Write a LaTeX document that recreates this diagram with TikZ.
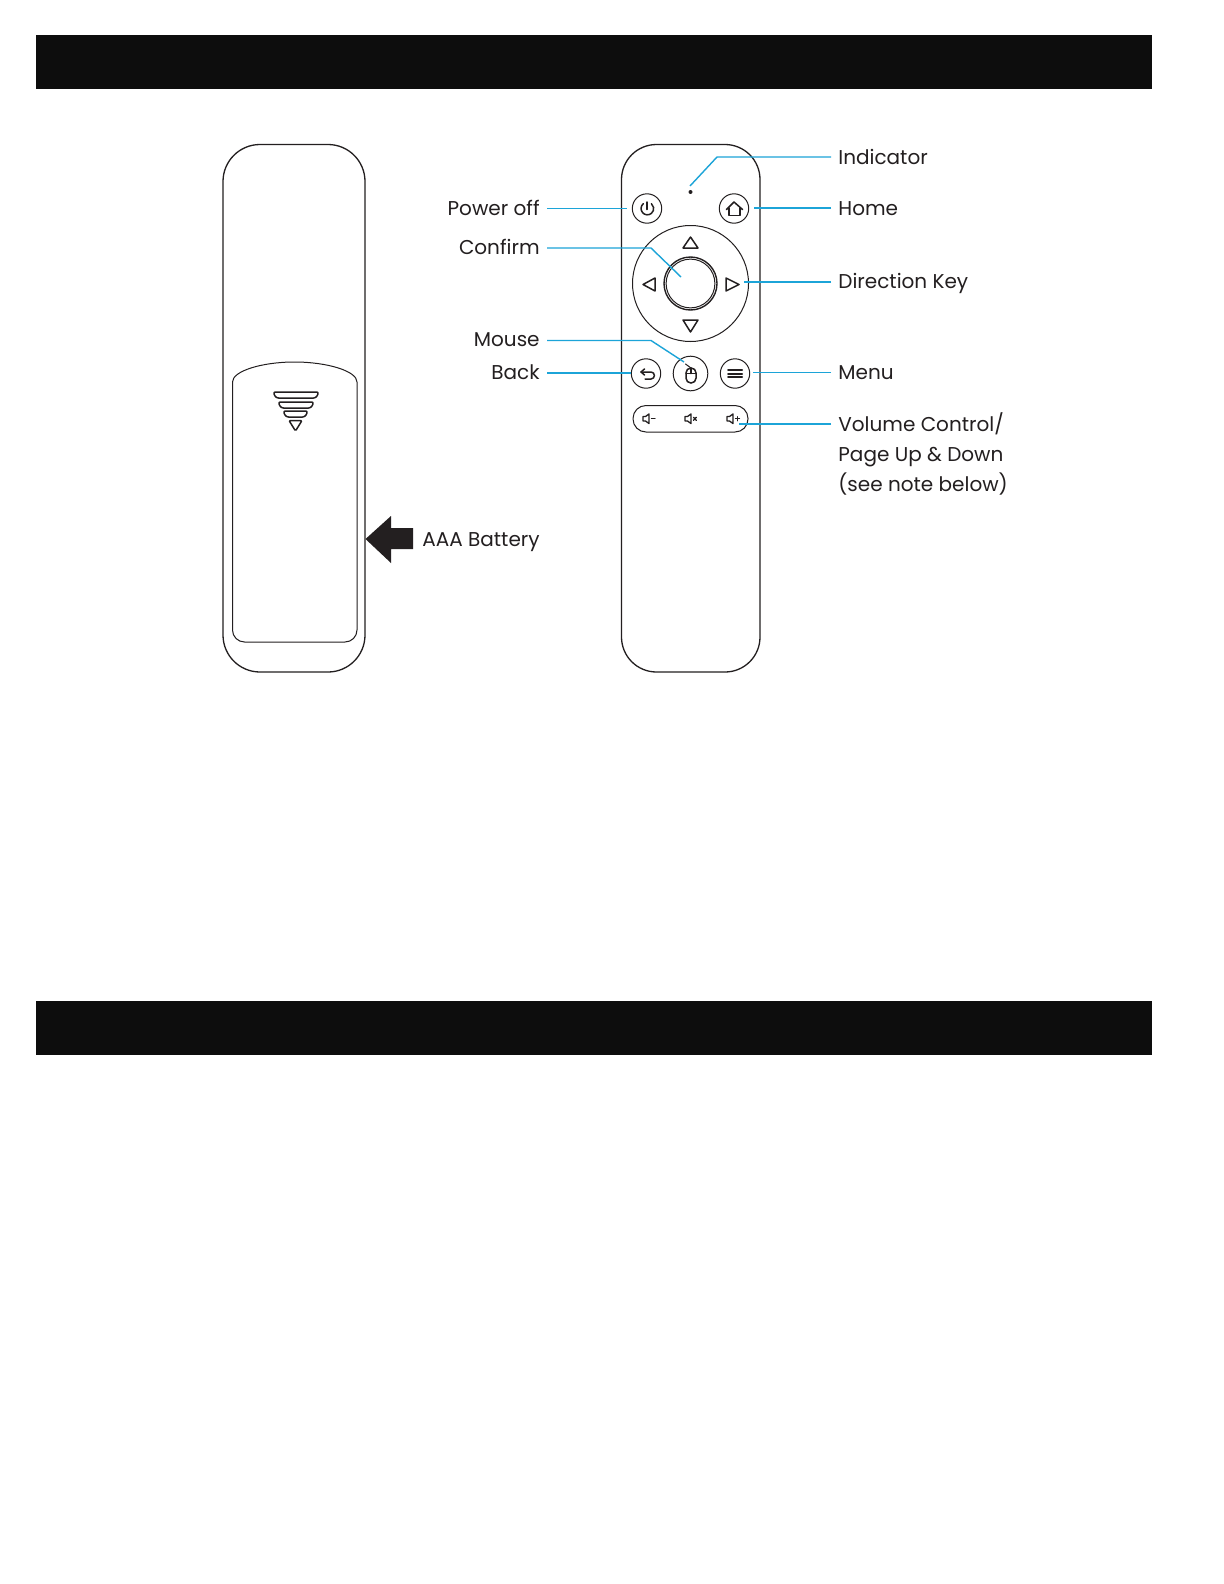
\documentclass[tikz,border=0pt]{standalone}
\usepackage{fontspec}
\setmainfont{Poppins}
\definecolor{barc}{HTML}{0D0D0D}
\definecolor{cyanl}{HTML}{1CA4D8}
\definecolor{inkc}{HTML}{231F20}
\begin{document}
\begin{tikzpicture}[x=0.5pt,y=-0.5pt,
  outline/.style={draw=inkc,line width=0.65pt,line join=round},
  icon/.style={draw=inkc,line width=0.75pt,line join=round,line cap=round},
  keyc/.style={circle,draw=inkc,line width=0.5pt,inner sep=0pt},
  lbl/.style={font=\fontsize{10}{15}\selectfont,text=inkc,inner ysep=0pt,inner xsep=3.5pt,text height=9.5pt,text depth=2pt},
  lead/.style={draw=cyanl,line width=0.7pt},
  leadthin/.style={draw=cyanl,line width=0.45pt},
  leadthick/.style={draw=cyanl,line width=1pt}]
\useasboundingbox (0,0) rectangle (1224,1584);
\fill[white] (0,0) rectangle (1224,1584);
\fill[barc] (36,35) rectangle (1152,89);
\fill[barc] (36,1001) rectangle (1152,1055);

% back of remote
\draw[outline,rounded corners=18.5pt] (223,144.5) -- (365,144.5) -- (365,672) -- (223,672) -- cycle;
\draw[outline,line width=0.5pt] (232.5,382) .. controls (232.5,371) and (262,362) .. (294.5,362) .. controls (327,362) and (357,371) .. (357,382);
\draw[outline,line width=0.5pt,rounded corners=6pt] (232.5,382) -- (232.5,642) -- (357,642) -- (357,382);
\draw[icon,rounded corners=1.2pt] (273,392) -- (319,392) -- (316,398) -- (276,398) -- cycle;
\draw[icon,rounded corners=1.2pt] (278,402) -- (314,402) -- (311,408) -- (281,408) -- cycle;
\draw[icon,rounded corners=1.2pt] (283,411) -- (308,411) -- (305,417) -- (286,417) -- cycle;
\draw[icon,rounded corners=0.6pt] (289,420.5) -- (302,420.5) -- (295.5,431) -- cycle;
\fill[inkc] (365.5,539) -- (391,516) -- (391,528) -- (413,528) -- (413,549) -- (391,549) -- (391,563) -- cycle;
\node[lbl,anchor=west] (battery) at (415,539) {AAA Battery};

% front of remote
\draw[outline,rounded corners=17.5pt] (621.5,144.5) -- (760,144.5) -- (760,672) -- (621.5,672) -- cycle;
\fill[inkc] (690.5,192) circle[radius=2];
\node[keyc,minimum size=14.7pt] (power) at (647,208.5) {};
\node[keyc,minimum size=14.7pt] (home) at (734,208.5) {};
\node[keyc,minimum size=58pt] (dpad) at (690.5,283.5) {};
\node[keyc,minimum size=26.5pt,line width=0.7pt] (okout) at (690.5,283.5) {};
\node[keyc,minimum size=24.4pt] (okin) at (690.5,283.5) {};
\node[keyc,minimum size=14.7pt] (back) at (646,373.5) {};
\node[keyc,minimum size=17.3pt] (mouse) at (690.5,373.5) {};
\node[keyc,minimum size=14.7pt] (menu) at (735,373.5) {};
\draw[outline,line width=0.5pt,rounded corners=6.5pt] (633,405.5) rectangle (748,432);
% power icon
\draw[icon] (643.3,203.7) arc[start angle=-130,end angle=-410,radius=6.3];
\draw[icon] (647.2,202) -- (647.2,209.5);
% home icon
\draw[icon] (726.5,209.5) -- (734,202) -- (742.5,209.5);
\draw[icon] (729,208) -- (729,215.5) -- (740,215.5) -- (740,208);
% triangles
\draw[icon] (690.5,237) -- (698,248) -- (683,248) -- cycle;
\draw[icon] (643,284.5) -- (655,278) -- (655,291) -- cycle;
\draw[icon] (739,284.5) -- (726,278) -- (726,291) -- cycle;
\draw[icon] (690.5,332) -- (698,320) -- (683,320) -- cycle;
% back icon
\draw[icon] (644.5,369) -- (641,372) -- (644.5,375);
\draw[icon] (641,372) -- (651,372) .. controls (655.5,372) and (655.5,379) .. (651,379) -- (645,379);
% mouse icon
\draw[icon,rounded corners=2.4pt] (686,368) -- (696,368) -- (696,383) -- (686,383) -- cycle;
\draw[icon] (686,373.5) -- (696,373.5);
\draw[icon] (691,368) -- (691,373.5);
\draw[icon,line width=0.5pt] (691,368) -- (685.5,364);
% menu icon
\draw[icon,line width=1pt] (728,370) -- (742,370) (728,373.5) -- (742,373.5) (728,377) -- (742,377);
% speakers
\foreach \sx in {643,685,727}{
  \draw[icon,line width=0.65pt] (\sx,416.5) -- (\sx+2.5,416.5) -- (\sx+6,414) -- (\sx+6,423.5) -- (\sx+2.5,421) -- (\sx,421) -- cycle;
}
\draw[icon,line width=0.65pt] (651.5,418.7) -- (655,418.7);
\draw[icon,line width=0.65pt] (693.5,417.3) -- (696.3,420.3) (696.3,417.3) -- (693.5,420.3);
\draw[icon,line width=0.65pt] (735.5,418.7) -- (739.5,418.7) (737.5,416.7) -- (737.5,420.7);

% labels
\node[lbl,anchor=east] (lpower) at (547,208) {Power off};
\node[lbl,anchor=east] (lconfirm) at (547,248) {\raisebox{0.5pt}{Confirm}};
\node[lbl,anchor=east] (lmouse) at (547,340.5) {\raisebox{1pt}{Mouse}};
\node[lbl,anchor=east] (lback) at (547,373) {\raisebox{0.5pt}{Back}};
\node[lbl,anchor=west] (lind) at (831,157) {Indicator};
\node[lbl,anchor=west] (lhome) at (831,208) {Home};
\node[lbl,anchor=west] (ldir) at (831,282) {\raisebox{0.4pt}{Direction Key}};
\node[lbl,anchor=west] (lmenu) at (831,372) {Menu};
\node[lbl,anchor=west] (lvol) at (831,424) {Volume Control/};
\node[lbl,anchor=west] (lpage) at (831,454) {Page Up \& Down};
\node[lbl,anchor=west] (lsee) at (831,484) {(see note below)};

% connector ends
\coordinate (eind) at (690,186);
\coordinate (epower) at (627,208);
\coordinate (ehome) at (754,208);
\coordinate (econfirm) at (681,277);
\coordinate (edir) at (744,282);
\coordinate (emouse) at (684,362);
\coordinate (eback) at (631,373);
\coordinate (emenu) at (753,372);
\coordinate (evol) at (739,424);
\draw[lead] (lind.west) -- (717,157) -- (eind);
\draw[leadthin] (lpower.east) -- (epower);
\draw[leadthick] (lhome.west) -- (ehome);
\draw[lead] (lconfirm.east) -- (651,248) -- (econfirm);
\draw[leadthick] (ldir.west) -- (edir);
\draw[lead] (lmouse.east) -- (651,340.5) -- (emouse);
\draw[leadthick] (lback.east) -- (eback);
\draw[leadthin] (lmenu.west) -- (emenu);
\draw[leadthick] (lvol.west) -- (evol);
\end{tikzpicture}
\end{document}
